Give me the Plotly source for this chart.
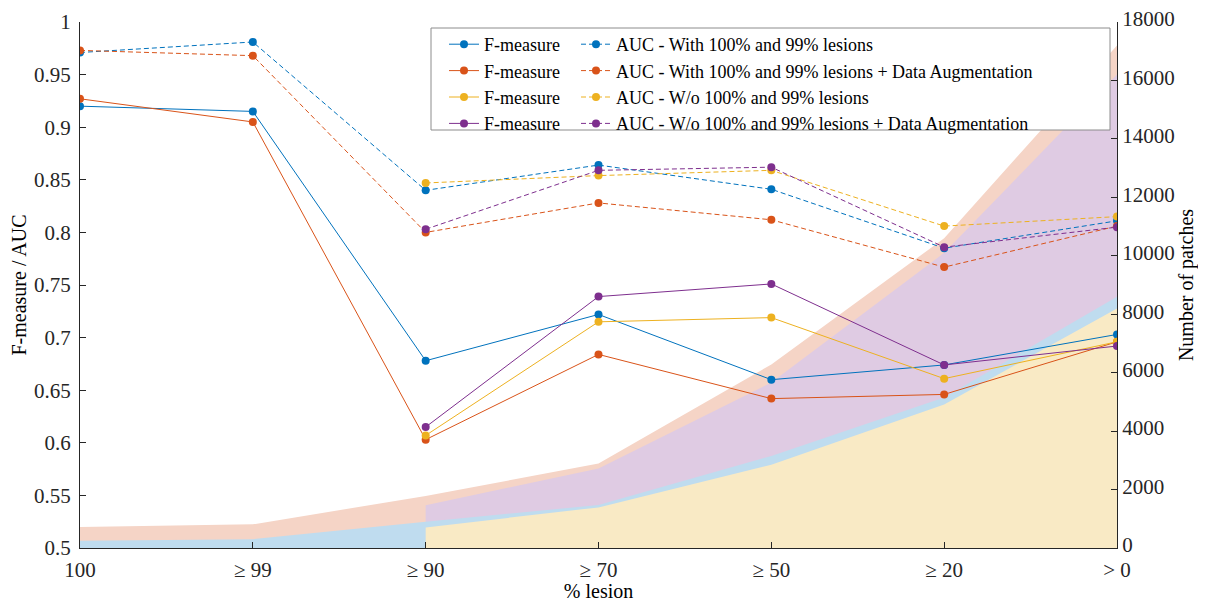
import plotly.graph_objects as go

# ---------------- data ----------------
categories = ["100", "≥ 99", "≥ 90", "≥ 70", "≥ 50", "≥ 20", "> 0"]

f_with = [0.920, 0.915, 0.678, 0.722, 0.660, 0.674, 0.703]
f_with_da = [0.927, 0.905, 0.603, 0.684, 0.642, 0.646, 0.696]
f_wo = [None, None, 0.607, 0.715, 0.719, 0.661, 0.696]
f_wo_da = [None, None, 0.615, 0.739, 0.751, 0.674, 0.692]

auc_with = [0.971, 0.981, 0.840, 0.864, 0.841, 0.785, 0.811]
auc_with_da = [0.973, 0.968, 0.800, 0.828, 0.812, 0.767, 0.806]
auc_wo = [None, None, 0.847, 0.854, 0.859, 0.806, 0.815]
auc_wo_da = [None, None, 0.803, 0.859, 0.862, 0.786, 0.805]

patches_with = [250, 300, 900, 1470, 3150, 5150, 8600]
patches_with_da = [720, 810, 1780, 2890, 6280, 10600, 17200]
patches_wo = [None, None, 705, 1390, 2850, 4910, 8200]
patches_wo_da = [None, None, 1466, 2717, 5660, 10100, 16200]

left_ticks = [0.5, 0.55, 0.6, 0.65, 0.7, 0.75, 0.8, 0.85, 0.9, 0.95, 1.0]
left_ticktext = ["0.5", "0.55", "0.6", "0.65", "0.7", "0.75", "0.8", "0.85", "0.9", "0.95", "1"]
right_ticks = [0, 2000, 4000, 6000, 8000, 10000, 12000, 14000, 16000, 18000]
right_ticktext = [str(v) for v in right_ticks]

series_names = ["AUC - With 100% and 99% lesions",
                "AUC - With 100% and 99% lesions + Data Augmentation",
                "AUC - W/o 100% and 99% lesions",
                "AUC - W/o 100% and 99% lesions + Data Augmentation"]

line_colors = ["#0072BD", "#D95319", "#EDB120", "#7E2F8E"]
area_colors = ["#BFDCEF", "#F5D4C6", "#F9EAC5", "#DFCBE3"]

FONT = "Liberation Serif, Times New Roman, serif"
AX = "#262626"


def pts(vals):
    xs, ys = [], []
    for i, v in enumerate(vals):
        if v is not None:
            xs.append(i)
            ys.append(v)
    return xs, ys


fig = go.Figure()

# areas (patch counts) on primary y (right side), drawn largest first
area_order = [(patches_with_da, 1), (patches_wo_da, 3), (patches_with, 0), (patches_wo, 2)]
for vals, ci in area_order:
    xs, ys = pts(vals)
    fig.add_trace(go.Scatter(x=xs, y=ys, mode="lines", fill="tozeroy",
                             fillcolor=area_colors[ci], line=dict(width=0, color=area_colors[ci]),
                             showlegend=False, hoverinfo="skip", yaxis="y"))

f_series = [f_with, f_with_da, f_wo, f_wo_da]
auc_series = [auc_with, auc_with_da, auc_wo, auc_wo_da]

for i in range(4):
    xs, ys = pts(f_series[i])
    fig.add_trace(go.Scatter(x=xs, y=ys, mode="lines+markers", name="F-measure",
                             line=dict(color=line_colors[i], width=1),
                             marker=dict(color=line_colors[i], size=8),
                             yaxis="y2", legend="legend"))
for i in range(4):
    xs, ys = pts(auc_series[i])
    fig.add_trace(go.Scatter(x=xs, y=ys, mode="lines+markers", name=series_names[i],
                             line=dict(color=line_colors[i], width=1, dash="5px,3px"),
                             marker=dict(color=line_colors[i], size=8),
                             yaxis="y2", legend="legend2"))

# page has an 8px body margin; figure is sized to fill the rest of the window
OFF = 8
W, H = 1206 - OFF, 602 - OFF
PL, PR, PT, PB = 80, 1117, 22, 548          # plot area in page pixels
L, R, T, B = PL - OFF, (W + OFF) - PR, PT - OFF, (H + OFF) - PB
pw = PR - PL
ph = PB - PT


def px_x(p):
    return (p - PL) / pw


def px_y(p):
    return (PB - p) / ph


tickfont = dict(family=FONT, size=21, color=AX)
titlefont = dict(family=FONT, size=20, color="black")
legfont = dict(family=FONT, size=18, color="black")

fig.update_layout(
    width=W, height=H,
    margin=dict(l=L, r=R, t=T, b=B, autoexpand=False),
    paper_bgcolor="white", plot_bgcolor="white",
    font=dict(family=FONT, size=20, color=AX),
    xaxis=dict(range=[0, 6], tickvals=list(range(len(categories))), ticktext=categories,
               ticks="inside", ticklen=6, tickcolor=AX, showline=True, linecolor=AX,
               linewidth=1, showgrid=False, zeroline=False, automargin=False,
               ticklabeloverflow="allow", ticklabelstandoff=3,
               title=dict(text="% lesion", standoff=3, font=titlefont),
               tickfont=tickfont),
    yaxis=dict(range=[0, 18000], tickvals=right_ticks, ticktext=right_ticktext, side="right",
               ticks="inside", ticklen=6, tickcolor=AX, showline=True, linecolor=AX,
               linewidth=1, showgrid=False, zeroline=False, automargin=False,
               ticklabeloverflow="allow", ticklabelshift=-3,
               title=dict(text="Number of patches", standoff=3, font=titlefont),
               tickfont=tickfont),
    yaxis2=dict(range=[0.5, 1.0], tickvals=left_ticks, ticktext=left_ticktext,
                overlaying="y", side="left", ticklabelstandoff=4,
                ticks="inside", ticklen=6, tickcolor=AX, showline=True, linecolor=AX,
                linewidth=1, showgrid=False, zeroline=False, automargin=False,
                ticklabeloverflow="allow",
                title=dict(text="F-measure / AUC", font=titlefont),
                tickfont=tickfont),
    legend=dict(x=px_x(444), y=px_y(26), xanchor="left", yanchor="top",
                bgcolor="rgba(0,0,0,0)", borderwidth=0,
                font=legfont, tracegroupgap=0),
    legend2=dict(x=px_x(576), y=px_y(26), xanchor="left", yanchor="top",
                 bgcolor="rgba(0,0,0,0)", borderwidth=0,
                 font=legfont, tracegroupgap=0),
    shapes=[dict(type="rect", xref="paper", yref="paper",
                 x0=px_x(431), x1=px_x(1110), y0=px_y(130), y1=px_y(28),
                 fillcolor="white", line=dict(color="#8C8C8C", width=1), layer="above")],
)

fig.write_html("out.html")
